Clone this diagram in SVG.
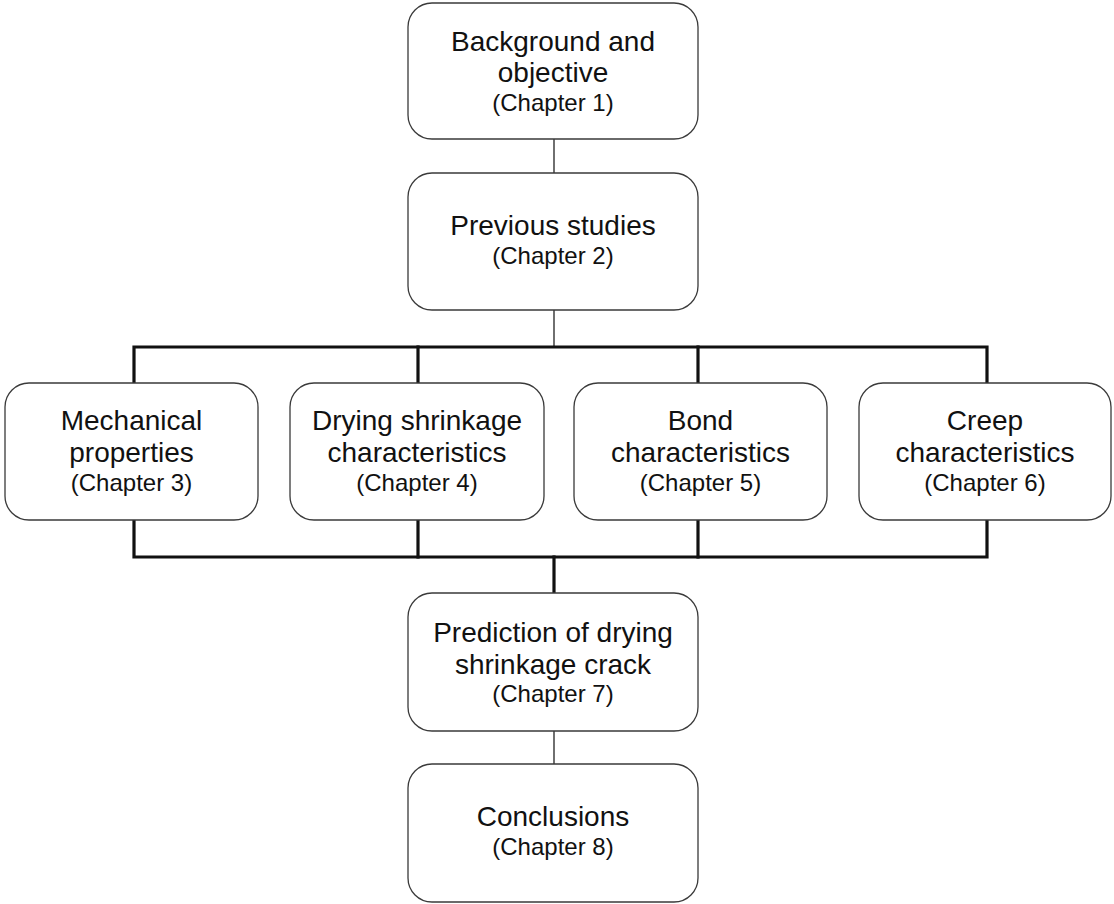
<svg xmlns="http://www.w3.org/2000/svg" width="1114" height="904" viewBox="0 0 1114 904">
<style>
.box{fill:#fff;stroke:#3a3a3a;stroke-width:1.3}
.t{font-family:"Liberation Sans",Arial,sans-serif;font-size:28px;fill:#111;text-anchor:middle}
.c{font-family:"Liberation Sans",Arial,sans-serif;font-size:24px;fill:#111;text-anchor:middle}
.thin{stroke:#222;stroke-width:1.3;fill:none}
.bus{stroke:#111;stroke-width:3.2;fill:none;stroke-linejoin:miter;stroke-linecap:square}
</style>
<rect width="1114" height="904" fill="#fff"/>
<g id="connectors">
<line class="thin" x1="554" y1="139" x2="554" y2="173"/>
<line class="thin" x1="554" y1="310" x2="554" y2="347"/>
<polyline class="bus" points="134,383 134,347 987,347 987,383"/>
<line class="bus" x1="418" y1="347" x2="418" y2="383"/>
<line class="bus" x1="698" y1="347" x2="698" y2="383"/>
<polyline class="bus" points="134,520 134,557 987,557 987,520"/>
<line class="bus" x1="418" y1="520" x2="418" y2="557"/>
<line class="bus" x1="698" y1="520" x2="698" y2="557"/>
<line class="bus" x1="554" y1="557" x2="554" y2="593"/>
<line class="thin" x1="554" y1="731" x2="554" y2="764"/>
</g>
<g id="n1">
<rect class="box" x="408" y="3" width="290" height="136" rx="24"/>
<text class="t" x="553" y="51">Background and</text>
<text class="t" x="553" y="82">objective</text>
<text class="c" x="553" y="111">(Chapter 1)</text>
</g>
<g id="n2">
<rect class="box" x="408" y="173" width="290" height="137" rx="24"/>
<text class="t" x="553" y="235">Previous studies</text>
<text class="c" x="553" y="264">(Chapter 2)</text>
</g>
<g id="n3">
<rect class="box" x="5" y="383" width="253" height="137" rx="24"/>
<text class="t" x="131.5" y="430">Mechanical</text>
<text class="t" x="131.5" y="462">properties</text>
<text class="c" x="131.5" y="491">(Chapter 3)</text>
</g>
<g id="n4">
<rect class="box" x="290" y="383" width="254" height="137" rx="24"/>
<text class="t" x="417" y="430">Drying shrinkage</text>
<text class="t" x="417" y="462">characteristics</text>
<text class="c" x="417" y="491">(Chapter 4)</text>
</g>
<g id="n5">
<rect class="box" x="574" y="383" width="253" height="137" rx="24"/>
<text class="t" x="700.5" y="430">Bond</text>
<text class="t" x="700.5" y="462">characteristics</text>
<text class="c" x="700.5" y="491">(Chapter 5)</text>
</g>
<g id="n6">
<rect class="box" x="859" y="383" width="252" height="137" rx="24"/>
<text class="t" x="985" y="430">Creep</text>
<text class="t" x="985" y="462">characteristics</text>
<text class="c" x="985" y="491">(Chapter 6)</text>
</g>
<g id="n7">
<rect class="box" x="408" y="593" width="290" height="138" rx="24"/>
<text class="t" x="553" y="642">Prediction of drying</text>
<text class="t" x="553" y="674">shrinkage crack</text>
<text class="c" x="553" y="702">(Chapter 7)</text>
</g>
<g id="n8">
<rect class="box" x="408" y="764" width="290" height="138" rx="24"/>
<text class="t" x="553" y="826">Conclusions</text>
<text class="c" x="553" y="855">(Chapter 8)</text>
</g>
</svg>
